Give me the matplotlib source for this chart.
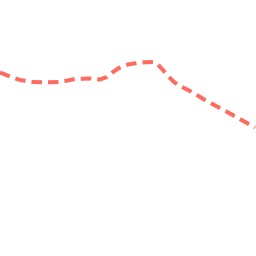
import matplotlib
matplotlib.use("Agg")
import matplotlib.pyplot as plt

# x positions and values (value = 256 - pixel row)
x = [0, 10, 20, 33, 45, 60, 75, 90, 100, 107, 113, 119, 128, 140, 153, 157, 162, 168, 174, 180, 192, 205, 230, 255]
y_pix = [72.5, 76.5, 80, 82, 82.3, 82, 79, 78.5, 79.5, 77, 72, 68, 64.5, 62.5, 62, 63.5, 69, 76, 82, 86, 92, 100, 113.5, 127.5]
values = [256 - v for v in y_pix]

fig = plt.figure(figsize=(2.56, 2.56), dpi=100)
ax = fig.add_axes([0, 0, 1, 1])
ax.plot(x, values, color="#ff6b5f", linewidth=2.9, dashes=(2.6, 1.5), solid_capstyle="butt", dash_capstyle="butt")
ax.set_xlim(0, 256)
ax.set_ylim(0, 256)
ax.axis("off")
fig.savefig("out.png", dpi=100)
